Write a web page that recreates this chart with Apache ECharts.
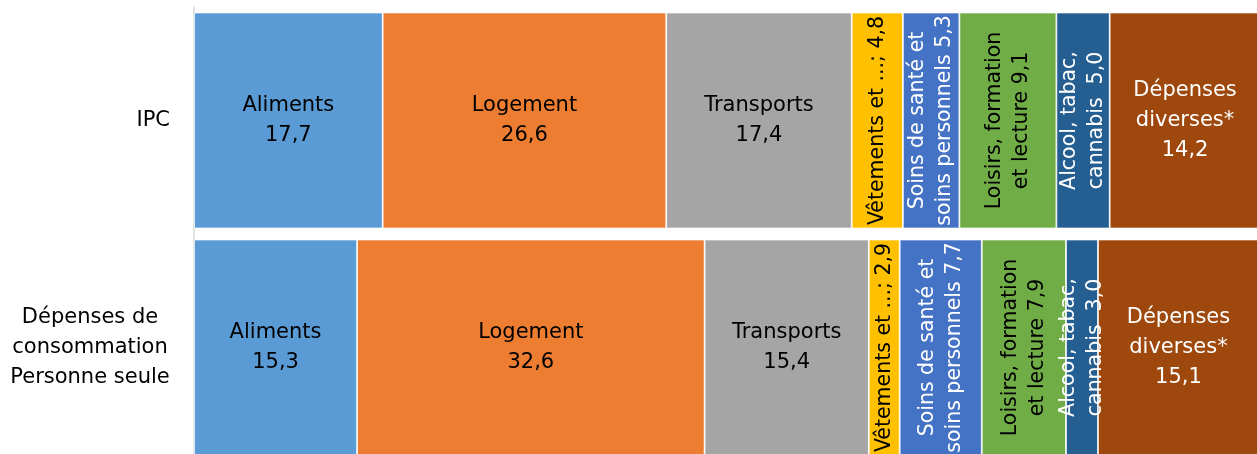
<!DOCTYPE html>
<html>
<head>
<meta charset="utf-8">
<script src="https://cdn.jsdelivr.net/npm/echarts@6/dist/echarts.min.js"></script>
<style>
    html, body { margin: 0; padding: 0; background: #ffffff; }
    #chart { width: 1257px; height: 454px; }
</style>
</head>
<body>
<div id="chart"></div>
<script>
    // catégories (IPC en haut)
    var categories = ['IPC', 'Dépenses de\nconsommation\nPersonne seule'];
    var seriesNames = [
        'Aliments', 'Logement', 'Transports', 'Vêtements et ...',
        'Soins de santé et soins personnels', 'Loisirs, formation et lecture',
        'Alcool, tabac, cannabis', 'Dépenses diverses*'
    ];
    var ipcValues = [17.7, 26.6, 17.4, 4.8, 5.3, 9.1, 5.0, 14.2];
    var seuleValues = [15.3, 32.6, 15.4, 2.9, 7.7, 7.9, 3.0, 15.1];
    // texte des étiquettes, {v} = valeur
    var labelTemplates = [
        'Aliments\n{v}', 'Logement\n{v}', 'Transports\n{v}', 'Vêtements et ...; {v}',
        'Soins de santé et\nsoins personnels {v}', 'Loisirs, formation\net lecture {v}',
        'Alcool, tabac,\ncannabis  {v}', 'Dépenses\ndiverses*\n{v}'
    ];
    var colors = ['#5b9bd5', '#ed7d31', '#a5a5a5', '#ffc000', '#4472c4', '#70ad47', '#255e91', '#9e480e'];
    var labelColors = ['#000', '#000', '#000', '#000', '#fff', '#000', '#fff', '#fff'];
    var vertical = [false, false, false, true, true, true, true, false];

    var FONT = 'DejaVu Sans';

    var chart = echarts.init(document.getElementById('chart'));

    var series = seriesNames.map(function (name, i) {
        return {
            name: name,
            type: 'bar',
            stack: 'total',
            barWidth: 216,
            data: [ipcValues[i], seuleValues[i]],
            itemStyle: { color: colors[i], borderColor: '#ffffff', borderWidth: 0.8 },
            label: {
                show: true,
                position: 'inside',
                rotate: vertical[i] ? 90 : 0,
                color: labelColors[i],
                fontFamily: FONT,
                fontSize: vertical[i] ? 20.5 : 21,
                lineHeight: vertical[i] ? 27 : 30,
                align: 'center',
                verticalAlign: 'middle',
                formatter: function (p) {
                    return labelTemplates[i].replace('{v}', p.value.toFixed(1).replace('.', ','));
                }
            }
        };
    });

    chart.setOption({
        animation: false,
        backgroundColor: '#ffffff',
        grid: { left: 194, top: 7, width: 1066, height: 454, outerBoundsMode: 'none', containLabel: false },
        xAxis: {
            type: 'value',
            min: 0,
            max: 100,
            show: false
        },
        yAxis: {
            type: 'category',
            inverse: true,
            data: categories,
            axisLine: { show: true, lineStyle: { color: '#d9d9d9', width: 1.5 } },
            axisTick: { show: false },
            axisLabel: {
                margin: 24,
                color: '#000',
                fontFamily: FONT,
                fontSize: 21,
                lineHeight: 30,
                formatter: function (value) {
                    if (value.indexOf('\n') < 0) {
                        return value;
                    }
                    return value.split('\n').map(function (l) { return '{c|' + l + '}'; }).join('\n');
                },
                rich: {
                    c: { width: 160, align: 'center', fontFamily: FONT, fontSize: 21, lineHeight: 30, color: '#000' }
                }
            }
        },
        series: series
    });
</script>
</body>
</html>
